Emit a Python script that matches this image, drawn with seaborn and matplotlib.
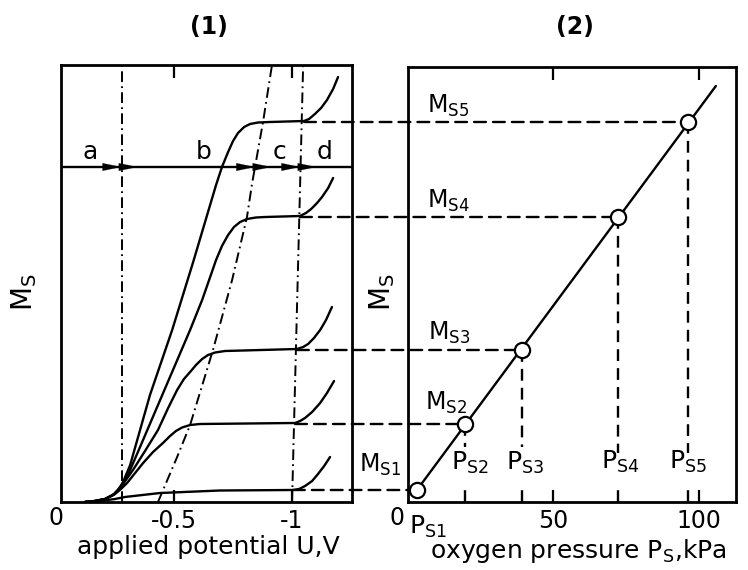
import matplotlib
matplotlib.use("Agg")
import matplotlib.pyplot as plt
import seaborn as sns
from matplotlib.patches import ConnectionPatch

# ---------------- data ----------------
# panel (1): Ms vs applied potential U (V), five curves
c1_U = [-0.123, -0.186, -0.250, -0.292, -0.441, -0.695, -1.004, -1.030, -1.055, -1.085, -1.110, -1.136, -1.161]
c1_M = [0.00, 0.01, 0.03, 0.05, 0.09, 0.115, 0.12, 0.13, 0.16, 0.21, 0.28, 0.36, 0.45]
c2_U = [-0.123, -0.165, -0.208, -0.250, -0.275, -0.301, -0.335, -0.369, -0.411, -0.453, -0.483,
        -0.508, -0.534, -0.568, -0.610, -1.013, -1.034, -1.055, -1.085, -1.119, -1.148, -1.178]
c2_M = [0.00, 0.01, 0.03, 0.08, 0.13, 0.19, 0.29, 0.39, 0.50, 0.59, 0.66,
        0.71, 0.745, 0.77, 0.78, 0.79, 0.81, 0.84, 0.90, 0.99, 1.09, 1.21]
c3_U = [-0.123, -0.165, -0.208, -0.246, -0.284, -0.326, -0.377, -0.432, -0.475, -0.513, -0.542, -0.568,
        -0.593, -0.619, -0.644, -0.674, -0.716, -1.021, -1.047, -1.068, -1.093, -1.119, -1.144, -1.169]
c3_M = [0.00, 0.01, 0.03, 0.08, 0.18, 0.32, 0.51, 0.72, 0.94, 1.12, 1.23, 1.30,
        1.37, 1.43, 1.47, 1.495, 1.51, 1.53, 1.55, 1.58, 1.64, 1.72, 1.82, 1.95]
c4_U = [-0.123, -0.165, -0.208, -0.242, -0.271, -0.301, -0.356, -0.432, -0.568, -0.619, -0.653, -0.678, -0.703,
        -0.729, -0.754, -0.780, -0.809, -0.847, -0.886, -1.034, -1.059, -1.081, -1.106, -1.127, -1.153, -1.174]
c4_M = [0.00, 0.01, 0.03, 0.07, 0.14, 0.25, 0.55, 0.97, 1.72, 2.02, 2.25, 2.42, 2.56,
        2.67, 2.75, 2.80, 2.83, 2.845, 2.85, 2.86, 2.89, 2.93, 2.99, 3.05, 3.14, 3.24]
c5_U = [-0.123, -0.165, -0.208, -0.242, -0.263, -0.284, -0.314, -0.398, -0.492, -0.581, -0.678, -0.703, -0.729,
        -0.750, -0.771, -0.797, -0.822, -0.856, -0.907, -1.051, -1.072, -1.097, -1.123, -1.148, -1.174, -1.195]
c5_M = [0.00, 0.01, 0.03, 0.07, 0.12, 0.20, 0.37, 1.07, 1.72, 2.40, 3.17, 3.35, 3.50,
        3.61, 3.69, 3.75, 3.78, 3.795, 3.80, 3.81, 3.83, 3.88, 3.94, 4.02, 4.13, 4.25]

# boundary lines (dash-dot)
vline1_U = [-0.28, -0.28]
vline1_M = [0.0, 4.37]
vline2_U = [-1.0, -1.047]
vline2_M = [0.0, 4.37]
knee_U = [-0.432, -0.513, -0.568, -0.665, -0.746, -0.809, -0.831, -0.877, -0.915]
knee_M = [0.00, 0.45, 0.77, 1.52, 2.22, 2.85, 3.19, 3.80, 4.37]

# region arrows line
region_M = 3.35
region_bounds_U = [-0.28, -0.847, -1.038]
region_letters = ["a", "b", "c", "d"]

# plateau levels and their end on the U = -1 line
Ms_levels = [0.12, 0.78, 1.52, 2.85, 3.80]
plateau_end_U = [-1.004, -1.013, -1.021, -1.034, -1.051]

# panel (2): Ms vs oxygen pressure Ps (kPa)
Ps_points = [3.4, 19.9, 39.4, 72.3, 96.2]
line_P = [3.4, 105.8]
line_M = [0.12, 4.16]
Ps_drop_top = [0.55, 0.55, 0.49, 0.49]   # lower end of dashed drop lines (P_S2..P_S5)
Ps_foot = [0.0, 0.13]                     # short segment at the axis

x1_ticks = [-0.5, -1.0]
x1_ticklabels = ["-0.5", "-1"]
x2_ticks = [50, 100]
x2_ticklabels = ["50", "100"]

# ---------------- figure ----------------
sns.set_theme(style="white")
plt.rcParams["font.family"] = ["DejaVu Sans"]
plt.rcParams["mathtext.default"] = "regular"
plt.rcParams["text.color"] = "black"
plt.rcParams["axes.labelcolor"] = "black"
plt.rcParams["xtick.color"] = "black"
plt.rcParams["ytick.color"] = "black"

W, H = 748, 570
fig = plt.figure(figsize=(W / 100, H / 100), dpi=100)
fig.patch.set_facecolor("white")

def fx(x):
    return x / W

def fy(y):
    return 1 - y / H

ax1 = fig.add_axes([fx(61), fy(502), 291 / W, 437 / H])
ax2 = fig.add_axes([fx(408), fy(502), 328 / W, 435 / H])

LW = 1.7
dashdot = (0, (5.5, 2.2, 0.9, 2.2))
dashed = (0, (5.0, 3.0))

for U, M in [(c1_U, c1_M), (c2_U, c2_M), (c3_U, c3_M), (c4_U, c4_M), (c5_U, c5_M)]:
    l = sns.lineplot(x=U, y=M, ax=ax1, sort=False, estimator=None, color="black", lw=LW)
for ln in ax1.get_lines():
    ln.set_solid_joinstyle("round")
    ln.set_solid_capstyle("round")

for U, M in [(vline1_U, vline1_M), (vline2_U, vline2_M), (knee_U, knee_M)]:
    sns.lineplot(x=U, y=M, ax=ax1, sort=False, estimator=None, color="black",
                 lw=1.4, linestyle=dashdot)

ax1.set_xlim(-0.021, -1.254)
ax1.set_ylim(0, 4.37)

# region line with arrows
ax1.axhline(region_M, color="black", lw=LW)
du = 14 / 236
for b in region_bounds_U:
    for tip in (b + 0.004, b - 0.065):
        ax1.annotate("", xy=(tip, region_M), xytext=(tip + du, region_M),
                     arrowprops=dict(arrowstyle="-|>,head_length=1.2,head_width=0.25",
                                     mutation_scale=11, color="black", lw=0.1,
                                     shrinkA=0, shrinkB=0))

# panel 2
sns.lineplot(x=line_P, y=line_M, ax=ax2, sort=False, estimator=None, color="black", lw=LW)
for P, Mt in zip(Ps_points[1:], Ps_drop_top):
    M = Ms_levels[Ps_points.index(P)]
    ax2.plot([P, P], [M, Mt], color="black", lw=LW, linestyle=dashed)
    ax2.plot([P, P], Ps_foot, color="black", lw=LW, linestyle=dashed)
sns.scatterplot(x=Ps_points, y=Ms_levels, ax=ax2, s=120, facecolor="white",
                edgecolor="black", linewidth=1.6, zorder=6)
ax2.set_xlim(0.34, 112.7)
ax2.set_ylim(0, 4.35)

# horizontal dashed connectors
for U, M, P in zip(plateau_end_U, Ms_levels, Ps_points):
    con = ConnectionPatch(xyA=(U, M), coordsA=ax1.transData,
                          xyB=(P, M), coordsB=ax2.transData,
                          color="black", lw=LW, linestyle=dashed, zorder=3)
    con.set_clip_on(False)
    ax2.add_artist(con)

for ax, ticks, labels in [(ax1, x1_ticks, x1_ticklabels), (ax2, x2_ticks, x2_ticklabels)]:
    ax.set_facecolor("none")
    ax.set_xticks(ticks)
    ax.set_xticklabels(labels)
    ax.set_yticks([])
    ax.tick_params(axis="x", direction="in", length=9, width=1.6, top=True,
                   bottom=True, labelsize=17, pad=5, colors="black")
    for sp in ax.spines.values():
        sp.set_visible(True)
        sp.set_color("black")
        sp.set_linewidth(2.0)
    ax.set_xlabel("")
    ax.set_ylabel("")

# ---------------- texts ----------------
fig.text(fx(209), fy(27), "(1)", ha="center", va="center", fontsize=17, fontweight="bold")
fig.text(fx(575), fy(27), "(2)", ha="center", va="center", fontsize=17, fontweight="bold")

fig.text(fx(56), fy(518), "0", ha="center", va="center", fontsize=17)
fig.text(fx(397), fy(518), "0", ha="center", va="center", fontsize=17)

fig.text(fx(208), fy(547), "applied potential U,V", ha="center", va="center", fontsize=18)
fig.text(fx(430), fy(551), "oxygen pressure $P_S$,kPa", ha="left", va="center", fontsize=18)

fig.text(fx(24), fy(292), "$M_S$", rotation=90, ha="center", va="center", fontsize=20)
fig.text(fx(382), fy(292), "$M_S$", rotation=90, ha="center", va="center", fontsize=20)

for lab, x in zip(region_letters, [90, 204, 280, 325]):
    fig.text(fx(x), fy(152), lab, ha="center", va="center", fontsize=18)

M_label_pos = [(380, 465), (446, 403), (449, 333), (448, 201), (448, 106)]
for i, (x, y) in enumerate(M_label_pos):
    fig.text(fx(x), fy(y), "$M_{S%d}$" % (i + 1), ha="center", va="center", fontsize=17)

P_label_pos = [(428, 527), (470, 463), (525, 463), (620, 462), (688, 462)]
for i, (x, y) in enumerate(P_label_pos):
    fig.text(fx(x), fy(y), "$P_{S%d}$" % (i + 1), ha="center", va="center", fontsize=18)

fig.savefig("out.png", dpi=100, facecolor="white")
